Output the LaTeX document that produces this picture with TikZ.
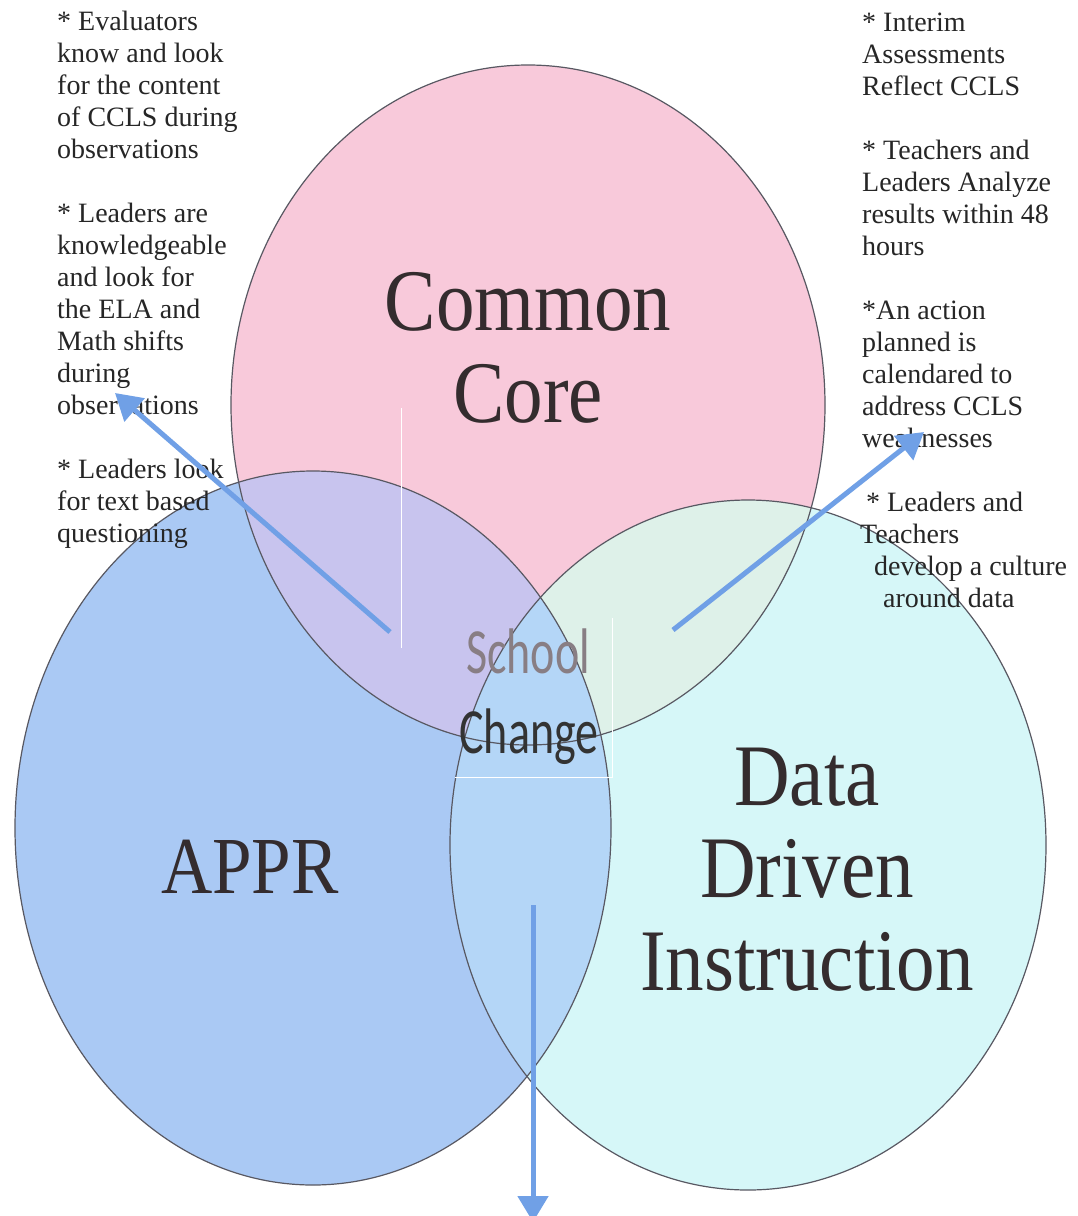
\documentclass[tikz,border=0pt]{standalone}
\usepackage{graphicx}
\usepackage{fontspec}
\setmainfont{Liberation Serif}
\newfontfamily\calfont{Carlito}
\usetikzlibrary{arrows.meta}

\definecolor{ccpink}{RGB}{248,201,218}
\definecolor{apprblue}{RGB}{170,201,244}
\definecolor{ddicyan}{RGB}{214,247,248}
\definecolor{lavender}{RGB}{200,196,238}
\definecolor{mint}{RGB}{222,241,233}
\definecolor{sky}{RGB}{180,214,247}
\definecolor{vennline}{RGB}{88,88,98}
\definecolor{arrowblue}{RGB}{112,160,230}
\definecolor{wordgray}{RGB}{52,44,46}
\definecolor{schoolgray}{RGB}{136,126,132}

\newcommand{\tallword}[1]{\scalebox{1}[1.14]{#1}}
\newcommand{\tallsans}[1]{\scalebox{1}[1.4]{#1}}

\tikzset{
  venn/.style={draw=vennline, line width=1.2pt},
  bigword/.style={anchor=base, inner sep=0pt, text=wordgray,
    font=\fontsize{77}{80}\selectfont},
  midword/.style={anchor=base, inner sep=0pt, font=\calfont\fontsize{46}{50}\selectfont},
  notes/.style={anchor=base west, align=left, inner sep=0pt, text=black!85,
    font=\fontsize{28}{32}\selectfont},
  pointer/.style={draw=arrowblue, line width=5pt,
    -{Triangle[length=26pt,width=30pt,fill=arrowblue]}},
  ghost/.style={draw=white, line width=0.8pt}
}

\begin{document}
\begin{tikzpicture}
    [x=1pt, y=-1pt]

    \fill [white] (0, 0) rectangle (1077, 1216);
    \useasboundingbox (0, 0) rectangle (1077, 1216);

    % the three circles
    \fill [ccpink]   (528, 405) ellipse [x radius=297pt, y radius=340pt];
    \fill [apprblue] (313, 828) ellipse [x radius=298pt, y radius=357pt];
    \fill [ddicyan]  (748, 845) ellipse [x radius=298pt, y radius=345pt];

    \begin{scope}
      \clip (528, 405) ellipse [x radius=297pt, y radius=340pt];
      \fill [lavender] (313, 828) ellipse [x radius=298pt, y radius=357pt];
      \fill [mint]     (748, 845) ellipse [x radius=298pt, y radius=345pt];
    \end{scope}
    \begin{scope}
      \clip (313, 828) ellipse [x radius=298pt, y radius=357pt];
      \fill [sky] (748, 845) ellipse [x radius=298pt, y radius=345pt];
    \end{scope}

    \draw [venn] (528, 405) ellipse [x radius=297pt, y radius=340pt];
    \draw [venn] (313, 828) ellipse [x radius=298pt, y radius=357pt];
    \draw [venn] (748, 845) ellipse [x radius=298pt, y radius=345pt];

    % stray box edges
    \draw [ghost] (401, 408) -- (401, 648);
    \draw [ghost] (612, 618) -- (612, 777) -- (455, 777);

    % labels
    \node [bigword] at (528, 330) (common) {\tallword{Common}};
    \node [bigword] at (528, 422) (core)   {\tallword{Core}};
    \node [bigword, font=\fontsize{71}{75}\selectfont] at (250, 893) (appr) {\tallword{APPR}};
    \node [bigword] at (807, 805) (data)   {\tallword{Data}};
    \node [bigword] at (807, 897) (driven) {\tallword{Driven}};
    \node [bigword] at (807, 990) (instr)  {\tallword{Instruction}};

    \node [midword, text=schoolgray] at (528, 673) (school) {\tallsans{School}};
    \node [midword, text=black!80]   at (529, 753) (change) {\tallsans{Change}};

    % notes (anchored on their last line)
    \node [notes] at (57, 542) (evalnote) {* Evaluators\\know and look\\for the content\\of CCLS during\\observations\\[32pt]%
      * Leaders are\\knowledgeable\\and look for\\the ELA and\\Math shifts\\during\\observations\\[32pt]%
      * Leaders look\\for text based\\questioning};

    \node [notes] at (862, 447) (interimnote) {* Interim\\Assessments\\Reflect CCLS\\[32pt]%
      * Teachers and\\Leaders Analyze\\results within 48\\hours\\[32pt]%
      *An action\\planned is\\calendared to\\address CCLS\\weaknesses};

    \node [notes] at (860, 607) (culturenote) {\hspace*{6pt}* Leaders and\\Teachers\\\hspace*{14pt}develop a culture\\\hspace*{23pt}around data};

    % arrows
    \coordinate (lapprtail) at (390, 632);
    \coordinate (lapprtip)  at (115, 393);
    \coordinate (rddtail)   at (673, 630);
    \coordinate (rddtip)    at (924, 432);
    \coordinate (midtail)   at (533, 905);
    \coordinate (midtip)    at (533, 1222);

    \draw [pointer] (lapprtail) -- (lapprtip);
    \draw [pointer] (rddtail) -- (rddtip);
    \draw [pointer] (midtail) -- (midtip);

\end{tikzpicture}
\end{document}
